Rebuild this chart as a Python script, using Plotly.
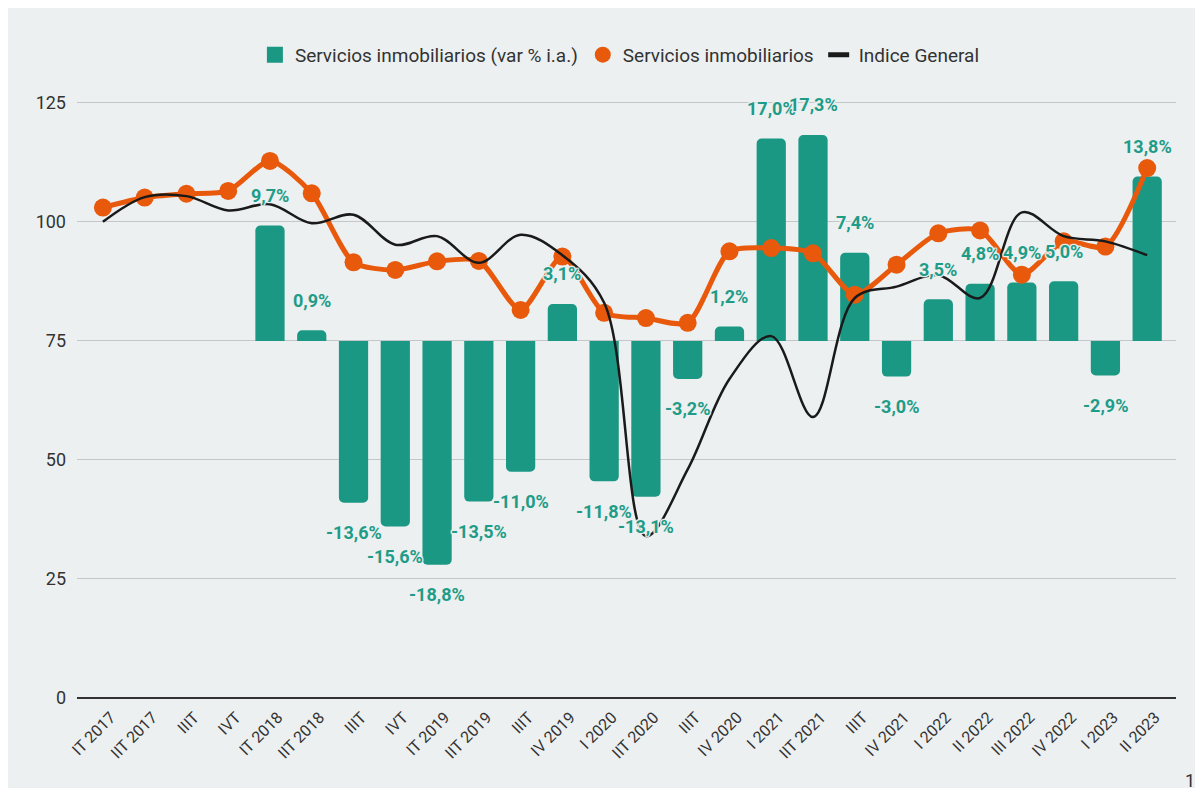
import plotly.graph_objects as go

######### DATA #########
trimestres = ["IT 2017", "IIT 2017", "IIIT", "IVT", "IT 2018", "IIT 2018", "IIIT", "IVT",
              "IT 2019", "IIT 2019", "IIIT", "IV 2019", "I 2020", "IIT 2020", "IIIT", "IV 2020",
              "I 2021", "IIT 2021", "IIIT", "IV 2021", "I 2022", "II 2022", "III 2022",
              "IV 2022", "I 2023", "II 2023"]

var_ia = [None, None, None, None, 9.7, 0.9, -13.6, -15.6, -18.8, -13.5, -11.0, 3.1, -11.8,
          -13.1, -3.2, 1.2, 17.0, 17.3, 7.4, -3.0, 3.5, 4.8, 4.9, 5.0, -2.9, 13.8]

servicios = [103.0, 105.1, 105.9, 106.5, 112.8, 106.0, 91.5, 89.9, 91.7, 91.8, 81.5, 92.7,
             80.9, 79.8, 78.8, 93.8, 94.5, 93.4, 84.7, 91.0, 97.6, 98.2, 88.9, 95.9, 94.8, 111.3]

indice_general = [100.0, 105.2, 105.4, 102.4, 103.7, 99.7, 101.5, 95.2, 97.0, 91.4, 97.3, 93.0,
                  83.0, 34.0, 48.0, 67.0, 76.0, 59.0, 84.0, 86.4, 88.8, 84.0, 102.0, 97.0, 95.9, 93.0]

y_ticks = [0, 25, 50, 75, 100, 125]

######### STYLE #########
BG = "#ecf0f1"
TEAL = "#1b9884"
ORANGE = "#e8590c"
FONT = "Roboto"
x_idx = list(range(len(trimestres)))

# bars (% i.a.) live on a hidden axis aligned so that 0% sits on 75 of the index axis
Y_MAX = 130
BAR_BASE, BAR_SCALE = 75, 2.5

fig = go.Figure()

fig.add_trace(go.Bar(
    x=x_idx, y=var_ia, yaxis="y",
    width=0.7,
    marker=dict(color=TEAL, cornerradius=5, line=dict(width=0)),
    showlegend=False,
    hoverinfo="skip",
))
fig.add_trace(go.Scatter(
    x=x_idx, y=servicios, yaxis="y2",
    mode="lines+markers",
    line=dict(color=ORANGE, width=5, shape="spline", smoothing=0.7),
    marker=dict(color=ORANGE, size=18),
    showlegend=False,
))
fig.add_trace(go.Scatter(
    x=x_idx, y=indice_general, yaxis="y2",
    mode="lines",
    line=dict(color="#1a1a1a", width=2.5, shape="spline", smoothing=1.0),
    showlegend=False,
))
# legend-only entries (square / circle / short dash like the original)
fig.add_trace(go.Scatter(
    x=[None], y=[None], yaxis="y2", mode="markers",
    marker=dict(color=TEAL, size=18, symbol="square"),
    name="Servicios inmobiliarios (var % i.a.)",
))
fig.add_trace(go.Scatter(
    x=[None], y=[None], yaxis="y2", mode="markers",
    marker=dict(color=ORANGE, size=19), name="Servicios inmobiliarios",
))
fig.add_trace(go.Scatter(
    x=[None], y=[None], yaxis="y2", mode="markers",
    marker=dict(symbol="line-ew", size=15, line=dict(width=5, color="#1a1a1a")),
    name="Indice General",
))

halo = ", ".join(f"{dx}px {dy}px 1px {BG}" for dx in (-1, 0, 1) for dy in (-1, 0, 1))
for i, v in enumerate(var_ia):
    if v is None:
        continue
    fig.add_annotation(
        x=i, y=v, xref="x", yref="y",
        text=f"{v:.1f}%".replace(".", ","),
        showarrow=False, yanchor="middle",
        yshift=30 if v >= 0 else -30,
        font=dict(family=FONT, size=18, color="#1f9c87", weight="bold", shadow=halo),
    )

fig.add_annotation(x=1.006, y=-0.113, xref="paper", yref="paper", text="1",
                   showarrow=False, xanchor="left", yanchor="top",
                   font=dict(family=FONT, size=18, color="#333"))

fig.update_layout(
    width=1195, height=780,
    margin=dict(l=69, r=27, t=71, b=90),
    paper_bgcolor=BG, plot_bgcolor=BG,
    font=dict(family=FONT, color="#333333"),
    legend=dict(orientation="h", x=0.494, xanchor="center", y=1.039, yanchor="middle",
                font=dict(size=19, color="#333333"), bgcolor="rgba(0,0,0,0)",
                itemwidth=30, tracegroupgap=0),
    xaxis=dict(
        range=[-0.62, 25.69],
        tickmode="array", tickvals=x_idx, ticktext=trimestres,
        tickangle=-45, tickfont=dict(size=16, color="#333"),
        ticklabelstandoff=6, ticklabelshift=8,
        showgrid=False, zeroline=False, showline=False, ticks="",
    ),
    yaxis=dict(
        range=[(0 - BAR_BASE) / BAR_SCALE, (Y_MAX - BAR_BASE) / BAR_SCALE],
        showgrid=False, zeroline=False, showticklabels=False, showline=False,
    ),
    yaxis2=dict(
        overlaying="y", side="left",
        range=[0, Y_MAX],
        tickmode="array", tickvals=y_ticks,
        tickfont=dict(size=18, color="#333"),
        ticklabelstandoff=10,
        showgrid=True, gridcolor="#c4c7c9", gridwidth=1.3,
        zeroline=True, zerolinecolor="#333333", zerolinewidth=2,
        showline=False, ticks="",
    ),
)

fig.write_html("out.html")
